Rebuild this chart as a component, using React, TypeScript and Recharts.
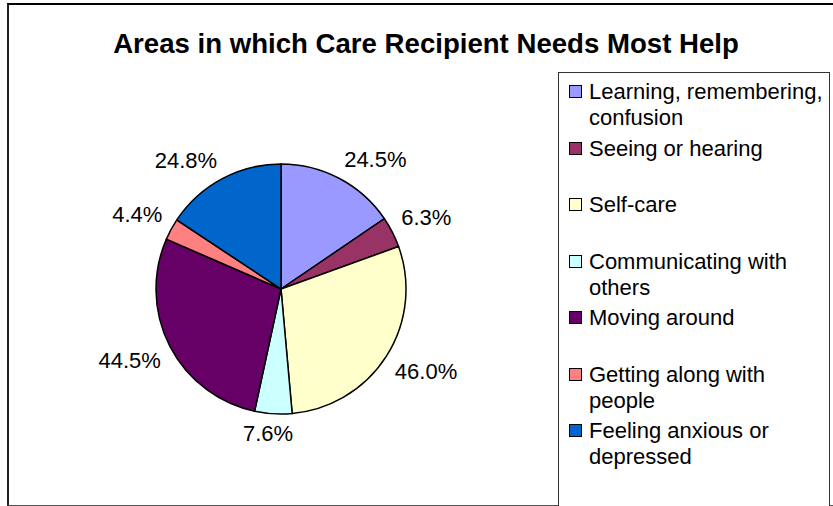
import React from "react"
import { PieChart, Pie, Cell, Legend } from "recharts"

const categories = [
    "Learning, remembering, confusion",
    "Seeing or hearing",
    "Self-care",
    "Communicating with others",
    "Moving around",
    "Getting along with people",
    "Feeling anxious or depressed",
]
const shares = [24.5, 6.3, 46.0, 7.6, 44.5, 4.4, 24.8]
const colors = ["#9999FF", "#993366", "#FFFFCC", "#CCFFFF", "#660066", "#FF8080", "#0066CC"]

const data = categories.map((name, i) => ({ name, value: shares[i] }))

const FONT = "'Liberation Sans', Arial, sans-serif"

// rough Arial widths, enough to push labels outside the pie
const charW: Record<string, number> = { ".": 0.278, "%": 0.889 }
const textWidth = (s: string, size: number) =>
    s.split("").reduce((sum, c) => sum + (charW[c] ?? 0.556), 0) * size

const renderLabel = (props: any) => {
    const { cx, cy, midAngle, outerRadius, index } = props
    const rad = Math.PI / 180
    const dx = Math.cos(-midAngle * rad)
    const dy = Math.sin(-midAngle * rad)
    const r = outerRadius + 10
    const px = cx + r * dx
    const py = cy + r * dy
    const text = shares[index].toFixed(1) + "%"
    const w = textWidth(text, 22)
    const h = 20
    const sx = Math.max(-1, Math.min(1, dx * 3))
    const sy = Math.max(-1, Math.min(1, dy * 3))
    return (
        <text
            x={px + (sx * w) / 2}
            y={py + (sy * h) / 2}
            textAnchor="middle"
            dominantBaseline="central"
            fontFamily={FONT}
            fontSize={22}
            fill="#000"
        >
            {text}
        </text>
    )
}

const renderLegend = () => (
    <div
        style={{
            width: 272,
            height: 460,
            border: "1px solid #333",
            boxSizing: "border-box",
            paddingTop: 6,
            background: "#fff",
            fontFamily: FONT,
            fontSize: 22,
            lineHeight: "26px",
            color: "#000",
        }}
    >
        {categories.map((name, i) => (
            <div key={name} style={{ display: "flex", height: 56.5, alignItems: "flex-start" }}>
                <span
                    style={{
                        display: "inline-block",
                        width: 13,
                        height: 13,
                        boxSizing: "border-box",
                        border: "1px solid #000",
                        background: colors[i],
                        marginLeft: 10,
                        marginTop: 6,
                        marginRight: 7,
                        flexShrink: 0,
                    }}
                />
                <span style={{ width: 240 }}>{name}</span>
            </div>
        ))}
    </div>
)

export default function App() {
    return (
        <div
            style={{
                position: "absolute",
                left: 0,
                top: 0,
                width: 833,
                height: 506,
                overflow: "hidden",
                background: "#fff",
            }}
        >
            <div
                style={{
                    position: "absolute",
                    left: 7,
                    top: 3,
                    width: 900,
                    height: 500,
                    borderTop: "2px solid #000",
                    borderLeft: "2px solid #222",
                    borderBottom: "1px solid #555",
                }}
            />
            <div
                style={{
                    position: "absolute",
                    left: 0,
                    top: 30,
                    width: 852,
                    textAlign: "center",
                    fontFamily: FONT,
                    fontWeight: "bold",
                    fontSize: 27.6,
                    lineHeight: "27px",
                    color: "#000",
                }}
            >
                Areas in which Care Recipient Needs Most Help
            </div>
            <div style={{ position: "absolute", left: 0, top: 0 }}>
                <PieChart width={833} height={506} margin={{ top: 0, right: 0, bottom: 0, left: 0 }}>
                    <Pie
                        data={data}
                        dataKey="value"
                        nameKey="name"
                        cx={281}
                        cy={289}
                        outerRadius={125}
                        startAngle={90}
                        endAngle={-270}
                        stroke="#000"
                        strokeWidth={1.5}
                        label={renderLabel}
                        labelLine={false}
                        isAnimationActive={false}
                    >
                        {data.map((d, i) => (
                            <Cell key={d.name} fill={colors[i]} />
                        ))}
                    </Pie>
                    <Legend
                        content={renderLegend}
                        wrapperStyle={{ position: "absolute", left: 558, top: 72, width: 272, height: 460 }}
                    />
                </PieChart>
            </div>
        </div>
    )
}
